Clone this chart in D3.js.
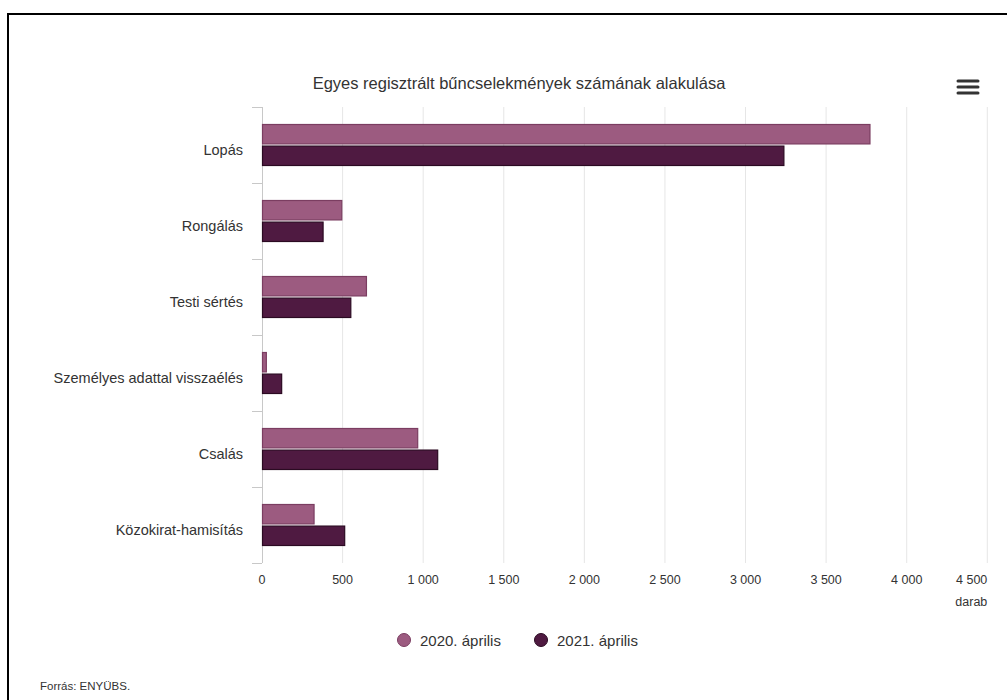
<!DOCTYPE html>
<html>
<head>
<meta charset="utf-8">
<script src="https://cdn.jsdelivr.net/npm/d3@7"></script>
<style>
  body { margin: 0; background: #fff; font-family: "Liberation Sans", Arial, sans-serif; }
</style>
</head>
<body>
<div id="chart"></div>
<script>
// Data
const categories = ["Lopás", "Rongálás", "Testi sértés", "Személyes adattal visszaélés", "Csalás", "Közokirat-hamisítás"];
const seriesNames = ["2020. április", "2021. április"];
const values2020 = [3772, 495, 648, 27, 966, 323];
const values2021 = [3238, 379, 551, 122, 1090, 513];
const xTicks = [0, 500, 1000, 1500, 2000, 2500, 3000, 3500, 4000, 4500];

const fills = ["#9c5b80", "#4f1a41"];
const strokes = ["#7b3d61", "#2b0a22"];

const W = 1007, H = 700;
const margin = { top: 107, left: 262, right: 20, bottom: 137 };
const width = 987.3 - margin.left;
const height = 563 - margin.top;

const svg = d3.select("#chart").append("svg")
    .attr("width", W)
    .attr("height", H);

// Outer frame
svg.append("rect")
    .attr("x", 8).attr("y", 14)
    .attr("width", W + 20).attr("height", H + 20)
    .attr("fill", "none")
    .attr("stroke", "#000")
    .attr("stroke-width", 2);

// Title
svg.append("text")
    .attr("x", 519).attr("y", 89)
    .attr("text-anchor", "middle")
    .style("font-size", "16.5px")
    .style("fill", "#333")
    .text("Egyes regisztrált bűncselekmények számának alakulása");

// Menu icon
const menu = svg.append("g").attr("transform", "translate(958,81)");
[0, 6, 12].forEach(dy => {
    menu.append("line")
        .attr("x1", 0).attr("x2", 20)
        .attr("y1", dy).attr("y2", dy)
        .attr("stroke", "#333")
        .attr("stroke-width", 3)
        .attr("stroke-linecap", "round");
});

const g = svg.append("g")
    .attr("transform", `translate(${margin.left},${margin.top})`);

// Scales
const x = d3.scaleLinear().domain([0, 4500]).range([0, width]);
const y = d3.scaleBand().domain(categories).range([0, height]);
const inner = d3.scaleBand().domain(seriesNames)
    .range([17.5, y.bandwidth() - 17.5])
    .paddingInner(0.1);

// Gridlines
g.append("g")
    .selectAll("line")
    .data(xTicks.slice(1))
    .join("line")
    .attr("x1", d => x(d)).attr("x2", d => x(d))
    .attr("y1", 0).attr("y2", height)
    .attr("stroke", "#e6e6e6")
    .attr("stroke-width", 1);

// Y axis line and ticks
g.append("line")
    .attr("x1", 0.5).attr("x2", 0.5)
    .attr("y1", 0).attr("y2", height)
    .attr("stroke", "#c8c8c8");

const tickPositions = categories.map(c => y(c)).concat([height]);
g.append("g")
    .selectAll("line")
    .data(tickPositions)
    .join("line")
    .attr("x1", -10).attr("x2", 0)
    .attr("y1", d => d + 0.5).attr("y2", d => d + 0.5)
    .attr("stroke", "#c8c8c8");

// Category labels
g.append("g")
    .selectAll("text")
    .data(categories)
    .join("text")
    .attr("x", -19)
    .attr("y", d => y(d) + y.bandwidth() / 2 + 10)
    .attr("text-anchor", "end")
    .style("font-size", "14.5px")
    .style("fill", "#333")
    .text(d => d);

// X axis labels
const fmt = d => d3.format(",")(d).replace(/,/g, "\u00a0");
g.append("g")
    .selectAll("text")
    .data(xTicks)
    .join("text")
    .attr("x", d => x(d))
    .attr("y", height + 21)
    .attr("text-anchor", (d, i) => i === xTicks.length - 1 ? "end" : "middle")
    .style("font-size", "12.5px")
    .style("fill", "#333")
    .text(fmt);

g.append("text")
    .attr("x", width)
    .attr("y", height + 43)
    .attr("text-anchor", "end")
    .style("font-size", "12.5px")
    .style("fill", "#333")
    .text("darab");

// Bars
const rows = categories.map((c, i) => ({ cat: c, vals: [values2020[i], values2021[i]] }));
const groups = g.append("g")
    .selectAll("g")
    .data(rows)
    .join("g")
    .attr("transform", d => `translate(0,${y(d.cat)})`);

groups.selectAll("rect")
    .data(d => d.vals.map((v, i) => ({ v, i })))
    .join("rect")
    .attr("x", 0.5)
    .attr("y", d => inner(seriesNames[d.i]))
    .attr("width", d => Math.max(0, x(d.v) - 0.5))
    .attr("height", inner.bandwidth())
    .attr("fill", d => fills[d.i])
    .attr("stroke", d => strokes[d.i])
    .attr("stroke-width", 1.2);

// Legend
const legendX = [404, 541];
const legend = svg.append("g");
seriesNames.forEach((name, i) => {
    legend.append("circle")
        .attr("cx", legendX[i]).attr("cy", 640)
        .attr("r", 6.5)
        .attr("fill", fills[i])
        .attr("stroke", strokes[i])
        .attr("stroke-width", 1);
    legend.append("text")
        .attr("x", legendX[i] + 16).attr("y", 645.5)
        .style("font-size", "15px")
        .style("fill", "#333")
        .text(name);
});

// Source
svg.append("text")
    .attr("x", 40).attr("y", 690)
    .style("font-size", "11.5px")
    .style("fill", "#333")
    .text("Forrás: ENYÜBS.");
</script>
</body>
</html>
